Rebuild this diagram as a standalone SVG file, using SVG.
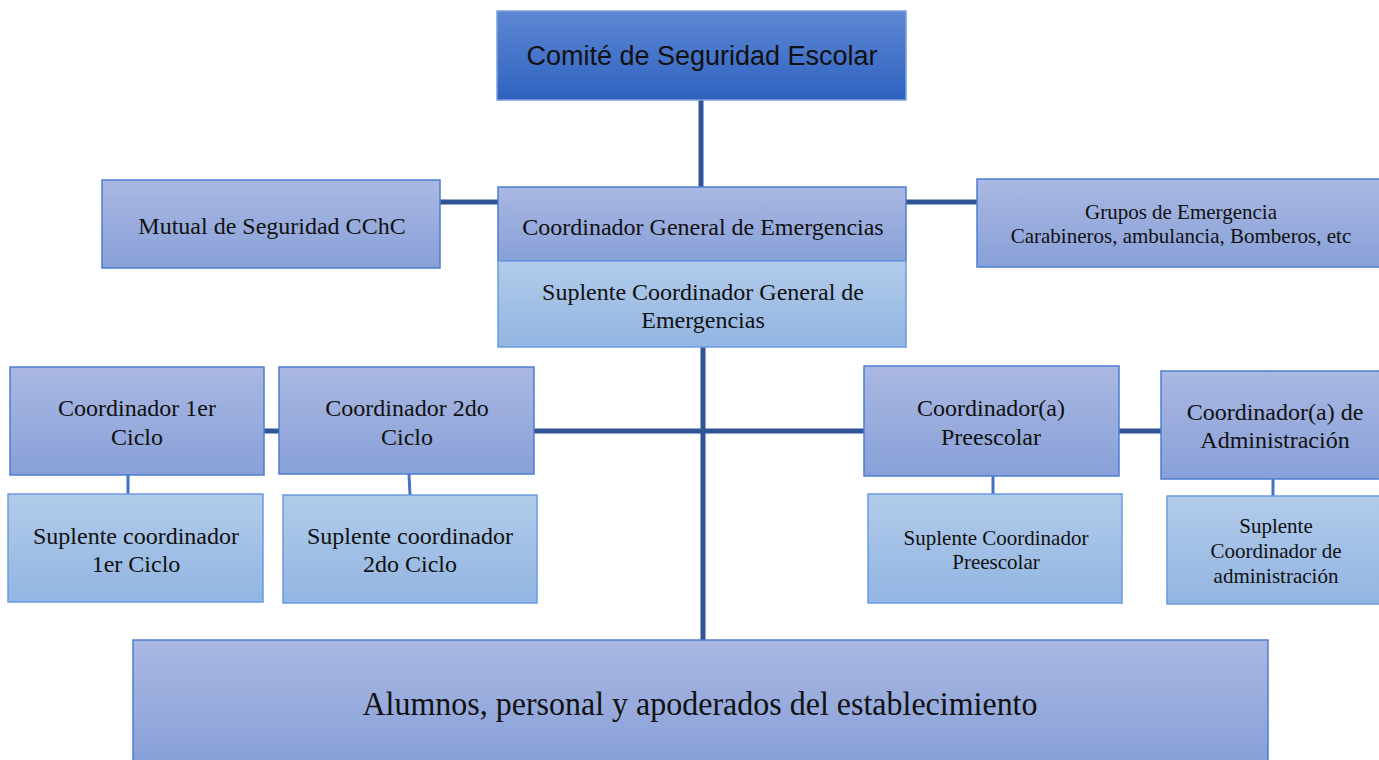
<svg xmlns="http://www.w3.org/2000/svg" width="1379" height="760" viewBox="0 0 1379 760">
<defs>
<linearGradient id="gTop" x1="0" y1="0" x2="0" y2="1"><stop offset="0" stop-color="#5d87d3"/><stop offset="1" stop-color="#2f62c0"/></linearGradient>
<linearGradient id="gMid" x1="0" y1="0" x2="0" y2="1"><stop offset="0" stop-color="#aab8e2"/><stop offset="1" stop-color="#88a0d8"/></linearGradient>
<linearGradient id="gLight" x1="0" y1="0" x2="0" y2="1"><stop offset="0" stop-color="#b2cbea"/><stop offset="1" stop-color="#92b5e2"/></linearGradient>
</defs>
<style>
.top{fill:url(#gTop);stroke:#7ea0dc;stroke-width:1.5}
.mid{fill:url(#gMid);stroke:#4d7ed2;stroke-width:1.5}
.light{fill:url(#gLight);stroke:#6a9ae0;stroke-width:1.5}
.t{font-family:"Liberation Serif","Times New Roman",serif;fill:#111;text-anchor:middle}
.s{font-family:"Liberation Sans",Arial,sans-serif;fill:#111;text-anchor:middle}
.thick{stroke:#2f5597;stroke-width:5;fill:none}
.thin{stroke:#4472c4;stroke-width:3;fill:none}
</style>
<g id="connectors">
<line class="thick" x1="701" y1="100" x2="701" y2="188"/>
<line class="thick" x1="440" y1="202" x2="499" y2="202"/>
<line class="thick" x1="906" y1="202" x2="978" y2="202"/>
<line class="thick" x1="703" y1="347" x2="703" y2="640"/>
<line class="thick" x1="534" y1="431" x2="865" y2="431"/>
<line class="thick" x1="264" y1="431" x2="280" y2="431"/>
<line class="thick" x1="1119" y1="431" x2="1162" y2="431"/>
<line class="thin" x1="128" y1="475" x2="128" y2="495"/>
<line class="thin" x1="409" y1="474" x2="410" y2="495"/>
<line class="thin" x1="993" y1="476" x2="993" y2="495"/>
<line class="thin" x1="1273" y1="479" x2="1273" y2="497"/>
</g>
<g id="comite">
<rect class="top" x="497" y="11" width="409" height="89"/>
<text class="s" x="702" y="65" font-size="27">Comité de Seguridad Escolar</text>
</g>
<g id="mutual">
<rect class="mid" x="102" y="180" width="338" height="88"/>
<text class="t" x="272" y="234" font-size="24">Mutual de Seguridad CChC</text>
</g>
<g id="coord-general">
<rect class="mid" x="498" y="187" width="408" height="74"/>
<text class="t" x="703" y="235" font-size="24">Coordinador General de Emergencias</text>
</g>
<g id="suplente-general">
<rect class="light" x="498" y="261" width="408" height="86"/>
<text class="t" x="703" y="300" font-size="24">Suplente Coordinador General de</text>
<text class="t" x="703" y="328" font-size="24">Emergencias</text>
</g>
<g id="grupos">
<rect class="mid" x="977" y="179" width="404" height="88"/>
<text class="t" x="1181" y="219" font-size="21">Grupos de Emergencia</text>
<text class="t" x="1181" y="243" font-size="21">Carabineros, ambulancia, Bomberos, etc</text>
</g>
<g id="coord-1er">
<rect class="mid" x="10" y="367" width="254" height="108"/>
<text class="t" x="137" y="416" font-size="24">Coordinador 1er</text>
<text class="t" x="137" y="445" font-size="24">Ciclo</text>
</g>
<g id="coord-2do">
<rect class="mid" x="279" y="367" width="255" height="107"/>
<text class="t" x="407" y="416" font-size="24">Coordinador 2do</text>
<text class="t" x="407" y="445" font-size="24">Ciclo</text>
</g>
<g id="suplente-1er">
<rect class="light" x="8" y="494" width="255" height="108"/>
<text class="t" x="136" y="544" font-size="24">Suplente coordinador</text>
<text class="t" x="136" y="572" font-size="24">1er Ciclo</text>
</g>
<g id="suplente-2do">
<rect class="light" x="283" y="495" width="254" height="108"/>
<text class="t" x="410" y="544" font-size="24">Suplente coordinador</text>
<text class="t" x="410" y="572" font-size="24">2do Ciclo</text>
</g>
<g id="coord-preescolar">
<rect class="mid" x="864" y="366" width="255" height="110"/>
<text class="t" x="991" y="416" font-size="24">Coordinador(a)</text>
<text class="t" x="991" y="445" font-size="24">Preescolar</text>
</g>
<g id="coord-admin">
<rect class="mid" x="1161" y="371" width="220" height="108"/>
<text class="t" x="1275" y="420" font-size="24">Coordinador(a) de</text>
<text class="t" x="1275" y="448" font-size="24">Administración</text>
</g>
<g id="suplente-preescolar">
<rect class="light" x="868" y="494" width="254" height="109"/>
<text class="t" x="996" y="545" font-size="21">Suplente Coordinador</text>
<text class="t" x="996" y="569" font-size="21">Preescolar</text>
</g>
<g id="suplente-admin">
<rect class="light" x="1167" y="496" width="214" height="108"/>
<text class="t" x="1276" y="533" font-size="21">Suplente</text>
<text class="t" x="1276" y="558" font-size="21">Coordinador de</text>
<text class="t" x="1276" y="583" font-size="21">administración</text>
</g>
<g id="alumnos">
<rect class="mid" x="133" y="640" width="1135" height="122"/>
<text class="t" x="700" y="715" font-size="33" textLength="675" lengthAdjust="spacingAndGlyphs">Alumnos, personal y apoderados del establecimiento</text>
</g>
</svg>
